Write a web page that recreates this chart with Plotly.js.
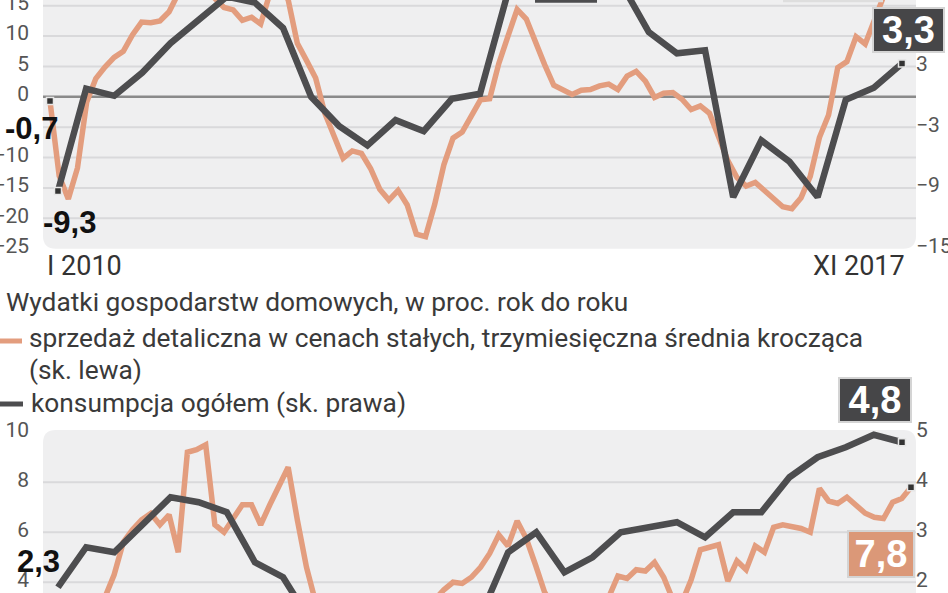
<!DOCTYPE html>
<html><head><meta charset="utf-8">
<script src="https://cdn.plot.ly/plotly-3.0.1.min.js"></script>
<style>html,body{margin:0;padding:0;background:#fff}#chart{width:948px;height:593px}</style>
</head><body><div id="chart"></div>
<script>
// ---------- categories ----------
const ROMAN = ['I','II','III','IV','V','VI','VII','VIII','IX','X','XI','XII'];
const months = [];
for (let y = 2010; y <= 2017; y++) for (let k = 0; k < 12; k++) { if (y === 2017 && k > 10) break; months.push(ROMAN[k] + ' ' + y); }
const quarters = [];
for (let y = 2010; y <= 2017; y++) for (let q = 1; q <= 4; q++) { if (y === 2017 && q > 3) break; quarters.push(q + ' kw. ' + y); }

// ---------- top panel series ----------
const retailTop = [-0.7,-13.0,-16.8,-11.7,-0.9,3.0,4.9,6.5,7.5,10.2,12.3,12.2,12.5,14.0,17.0,18.5,19.0,18.0,16.2,14.7,
  14.3,12.6,13.1,12.0,17.0,18.0,16.0,8.8,6.0,3.1,-2.7,-6.7,-10.1,-8.9,-9.3,-11.8,-15.2,-17.0,-15.4,-17.8,
  -22.6,-23.0,-17.7,-11.2,-6.8,-5.8,-3.0,-0.5,-0.3,5.5,10.0,14.4,12.8,8.9,5.3,1.9,1.1,0.4,1.1,1.2,
  1.8,2.1,1.2,3.4,4.2,2.6,-0.1,0.6,0.7,-0.4,-2.1,-1.5,-2.7,-6.6,-10.5,-13.3,-14.7,-14.1,-15.5,-17.0,
  -18.1,-18.4,-16.6,-13.1,-6.7,-3.0,4.8,5.8,9.9,8.7,12.5,16.5,17.5,18.0,18.5];
const consTop = [-9.3,0.8,0.1,2.4,5.3,7.6,9.9,9.3,6.8,0.0,-2.9,-4.8,-2.3,-3.4,-0.2,0.3,
  10.4,11.5,12.0,11.8,11.3,6.4,4.3,4.6,-9.9,-4.3,-6.4,-9.9,-0.3,0.9,3.3];

// ---------- bottom panel series ----------
const retailBottom = [2.5,2.0,1.8,2.2,2.6,3.0,3.4,4.3,5.6,6.1,6.5,6.75,6.3,6.7,5.2,9.2,9.3,9.5,6.3,6.0,
  6.6,7.1,7.1,6.3,7.1,7.85,8.6,6.5,4.6,3.2,2.6,2.0,1.5,1.2,0.8,0.5,0.3,0.1,0.6,1.2,
  1.9,2.7,3.3,3.7,4.0,3.95,4.2,4.6,5.15,5.9,5.45,6.45,5.75,4.7,3.6,3.0,2.6,2.3,2.7,2.5,
  3.0,3.4,4.25,4.15,4.5,4.45,4.8,4.2,3.3,3.2,4.1,5.3,5.4,5.5,4.05,4.85,4.5,5.45,5.2,6.2,
  6.3,6.25,6.15,6.0,7.75,7.25,7.15,7.4,7.05,6.76,6.6,6.55,7.2,7.35,7.8];
const consBottom = [1.9,2.7,2.6,3.15,3.7,3.6,3.4,2.4,2.1,1.2,0.6,0.1,0.0,0.3,0.9,1.3,
  2.6,3.0,2.2,2.5,3.0,3.1,3.2,2.9,3.4,3.4,4.1,4.5,4.7,4.95,4.8];

// ---------- ticks & labels ----------
const topLeftTicks = [-25,-20,-15,-10,0,5,10,15];
const topRightTicks = [-15,-9,-3,3];
const topGrid = [-20,-15,-10,-5,5,10,15];
const botLeftTicks = [4,6,8,10];
const botRightTicks = [2,3,4,5];
const botGrid = [4,6,8];
const legendTitle = 'Wydatki gospodarstw domowych, w proc. rok do roku';
const legendRetail = ['sprzedaż detaliczna w cenach stałych, trzymiesięczna średnia krocząca', '(sk. lewa)'];
const legendCons = 'konsumpcja ogółem (sk. prawa)';
const firstConsBottomLabel = '2,3';
const fmt = v => String(v).replace('.', ',');

// ---------- style ----------
const ORANGE = '#e39d7e', GREY = '#4d4d4f', PANEL = '#efeff0', GRID = '#d9d9db', ZERO = '#8a8a8a';
const W = 948, H = 593;
const PX = p => p / W, PY = p => 1 - p / H;
const TICKFONT = {family: 'Roboto, "Open Sans", sans-serif', size: 21, color: '#555'};
const NUMFONT = '"Liberation Sans", Arial, sans-serif';
const xDom = [PX(43), PX(916)];
const topDom = [PY(248.7), 1];
const botDom = [0, PY(430)];

const last = a => a[a.length - 1];
const endMarker = {symbol: 'square', size: 7, color: '#333', line: {color: '#e6e6e6', width: 1.5}};
const traces = [
  {x: months, y: retailTop, xaxis: 'x', yaxis: 'y', mode: 'lines', line: {color: ORANGE, width: 5.5}, hoverinfo: 'skip'},
  {x: quarters, y: consTop, xaxis: 'x2', yaxis: 'y2', mode: 'lines', line: {color: GREY, width: 6.5}, hoverinfo: 'skip'},
  {x: [months[0]], y: [retailTop[0]], xaxis: 'x', yaxis: 'y', mode: 'markers', cliponaxis: false, marker: endMarker},
  {x: [quarters[0], last(quarters)], y: [consTop[0], last(consTop)], xaxis: 'x2', yaxis: 'y2', mode: 'markers', cliponaxis: false, marker: endMarker},
  {x: months, y: retailBottom, xaxis: 'x3', yaxis: 'y3', mode: 'lines', line: {color: ORANGE, width: 5.5}, hoverinfo: 'skip'},
  {x: quarters, y: consBottom, xaxis: 'x4', yaxis: 'y4', mode: 'lines', line: {color: GREY, width: 6.5}, hoverinfo: 'skip'},
  {x: [last(months)], y: [last(retailBottom)], xaxis: 'x3', yaxis: 'y3', mode: 'markers', cliponaxis: false, marker: endMarker},
  {x: [last(quarters)], y: [last(consBottom)], xaxis: 'x4', yaxis: 'y4', mode: 'markers', cliponaxis: false, marker: endMarker}
];

const hiddenX = (extra) => Object.assign({type: 'category', domain: xDom, showgrid: false, zeroline: false,
  showline: false, showticklabels: false, ticks: '', fixedrange: true}, extra);
const yAx = (extra) => Object.assign({showgrid: false, zeroline: false, showline: false, ticks: '',
  tickfont: TICKFONT, ticklabelshift: -3, ticklabeloverflow: 'allow', fixedrange: true}, extra);

// panel backgrounds (rounded corners)
const r = 13;
const topPanel = `M ${PX(43)} ${PY(0)} L ${PX(916)} ${PY(0)} L ${PX(916)} ${PY(248.7 - r)} Q ${PX(916)} ${PY(248.7)} ${PX(916 - r)} ${PY(248.7)} L ${PX(43 + r)} ${PY(248.7)} Q ${PX(43)} ${PY(248.7)} ${PX(43)} ${PY(248.7 - r)} Z`;
const botPanel = `M ${PX(43)} ${PY(593)} L ${PX(43)} ${PY(430 + r)} Q ${PX(43)} ${PY(430)} ${PX(43 + r)} ${PY(430)} L ${PX(916 - r)} ${PY(430)} Q ${PX(916)} ${PY(430)} ${PX(916)} ${PY(430 + r)} L ${PX(916)} ${PY(593)} Z`;

const shapes = [
  {type: 'path', xref: 'paper', yref: 'paper', path: topPanel, fillcolor: PANEL, line: {width: 0}, layer: 'below'},
  {type: 'path', xref: 'paper', yref: 'paper', path: botPanel, fillcolor: PANEL, line: {width: 0}, layer: 'below'},
  ...topGrid.map(v => ({type: 'line', xref: 'paper', yref: 'y', x0: xDom[0], x1: xDom[1], y0: v, y1: v, line: {color: GRID, width: 2}, layer: 'below'})),
  {type: 'line', xref: 'paper', yref: 'y', x0: xDom[0], x1: xDom[1], y0: 0, y1: 0, line: {color: ZERO, width: 2.5}, layer: 'below'},
  ...botGrid.map(v => ({type: 'line', xref: 'paper', yref: 'y3', x0: xDom[0], x1: xDom[1], y0: v, y1: v, line: {color: GRID, width: 2}, layer: 'below'})),
  // legend keys
  {type: 'line', xref: 'paper', yref: 'paper', x0: PX(0), x1: PX(22), y0: PY(341), y1: PY(341), line: {color: ORANGE, width: 5}},
  {type: 'line', xref: 'paper', yref: 'paper', x0: PX(0), x1: PX(23), y0: PY(404), y1: PY(404), line: {color: GREY, width: 5}},
  // label boxes cut off by the top edge
  {type: 'rect', xref: 'paper', yref: 'paper', x0: PX(535), x1: PX(597), y0: PY(2.7), y1: 1, fillcolor: GREY, line: {width: 0}},
  {type: 'rect', xref: 'paper', yref: 'paper', x0: PX(783), x1: PX(883), y0: PY(2.2), y1: 1, fillcolor: '#dedede', line: {width: 0}}
];

const txt = (s, x, y, size, extra) => Object.assign({text: s, xref: 'paper', yref: 'paper', x: PX(x), y: PY(y),
  xanchor: 'left', yanchor: 'middle', showarrow: false,
  font: {family: 'Roboto, "Open Sans", sans-serif', size: size, color: '#3a3a3a'}}, extra || {});
const bold = (s, x, y) => txt(s, x, y, 31, {xanchor: 'center', font: {family: NUMFONT, size: 31, color: '#111', weight: 'bold'}});
const box = (s, x, y, w, h, bg) => txt(s, x, y, 38, {xanchor: 'center', bgcolor: bg, bordercolor: '#d4d4d4', borderwidth: 2, borderpad: 1,
  width: w - 6, height: h - 6, align: 'center', valign: 'middle',
  font: {family: NUMFONT, size: 38, color: '#fff', weight: 'bold'}});

const annotations = [
  {text: months[0], xref: 'x', yref: 'paper', x: 0, y: PY(266), xanchor: 'left', yanchor: 'middle', xshift: -5, showarrow: false,
   font: {family: 'Roboto, sans-serif', size: 27, color: '#333'}},
  {text: last(months), xref: 'x', yref: 'paper', x: months.length - 1, y: PY(266), xanchor: 'right', yanchor: 'middle', xshift: -4, showarrow: false,
   font: {family: 'Roboto, sans-serif', size: 27, color: '#333'}},
  txt(legendTitle, 4, 302, 26.3),
  txt(legendRetail[0], 27, 338, 26.3),
  txt(legendRetail[1], 27, 370, 26.3),
  txt(legendCons, 29, 403, 26.3),
  bold(fmt(retailTop[0]), 31, 128),
  bold(fmt(consTop[0]), 69.5, 222),
  bold(firstConsBottomLabel, 38.5, 561),
  box(fmt(last(consTop)), 908.5, 30, 73, 46, '#464648'),
  box(fmt(last(consBottom)), 875, 400, 74, 46, '#464648'),
  box(fmt(last(retailBottom)), 881, 554, 68, 48, '#db9878')
];

const layout = {
  width: W, height: H, margin: {l: 0, r: 0, t: 0, b: 0},
  paper_bgcolor: '#fff', plot_bgcolor: 'rgba(0,0,0,0)', showlegend: false,
  xaxis: hiddenX({anchor: 'y', range: [-0.764, 94.546]}),
  xaxis2: hiddenX({anchor: 'y', overlaying: 'x', range: [-0.533, 30.498]}),
  xaxis3: hiddenX({anchor: 'y3', range: [-0.764, 94.546]}),
  xaxis4: hiddenX({anchor: 'y3', overlaying: 'x3', range: [-0.533, 30.498]}),
  yaxis: yAx({domain: topDom, anchor: 'x', range: [-25, 15.94], tickvals: topLeftTicks, ticklabelstandoff: 13}),
  yaxis2: yAx({domain: topDom, anchor: 'x', overlaying: 'y', side: 'right', range: [-15, 9.564], tickvals: topRightTicks, ticklabelstandoff: -1}),
  yaxis3: yAx({domain: botDom, anchor: 'x3', range: [3.57, 10.09], tickvals: botLeftTicks, ticklabelstandoff: 13}),
  yaxis4: yAx({domain: botDom, anchor: 'x3', overlaying: 'y3', side: 'right', range: [1.785, 5.045], tickvals: botRightTicks, ticklabelstandoff: -1}),
  shapes: shapes, annotations: annotations
};

Plotly.newPlot('chart', traces, layout, {displayModeBar: false, staticPlot: true});
</script></body></html>
